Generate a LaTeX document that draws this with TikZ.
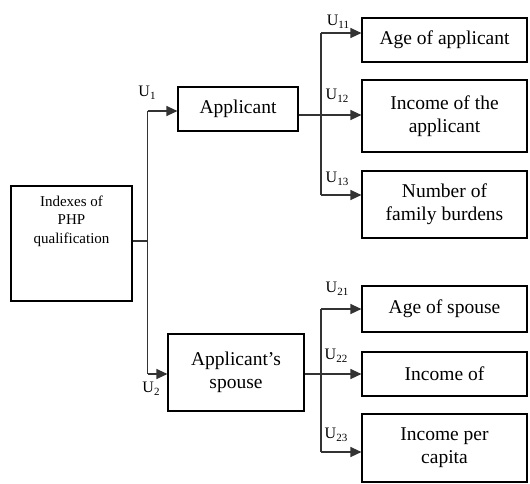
\documentclass[tikz,border=0pt]{standalone}
\usepackage{fontspec}
\setmainfont{Liberation Serif}
\usetikzlibrary{arrows.meta}
\newcommand\usub[1]{U\raisebox{-0.4ex}{\fontsize{11}{11}\selectfont #1}}
\begin{document}
\begin{tikzpicture}[x=1pt,y=-1pt,
  box/.style={draw=black, line width=1.1pt, align=center, inner sep=0pt,
    font=\fontsize{19.5}{23}\selectfont},
  rbox/.style={box, minimum width=165pt},
  conn/.style={draw=black!80, line width=1.2pt},
  arr/.style={conn, -{Triangle[length=11pt,width=10pt]}},
  ulab/.style={font=\fontsize{16}{16}\selectfont, inner sep=0pt}
]
\useasboundingbox (0,0) rectangle (530,483);

% root
\node[box, minimum width=121pt, minimum height=115pt] (root) at (71.5,243.5) {};
\node[align=center, inner sep=0pt, font=\fontsize{15}{18.5}\selectfont] (roottxt) at (71.5,221) {Indexes of\\PHP\\qualification};

% second level
\node[box, minimum width=120pt, minimum height=44pt] (app) at (238,109) {Applicant};
\node[box, minimum width=136pt, minimum height=77pt] (sp) at (236,372.5) {Applicant’s\\spouse};

% third level
\node[rbox, minimum height=44pt] (age1) at (444.5,40) {Age of applicant};
\node[rbox, minimum height=72pt] (inc1) at (444.5,116) {Income of the\\applicant};
\node[rbox, minimum height=67pt] (num) at (444.5,204.5) {Number of\\family burdens};
\node[rbox, minimum height=46pt] (age2) at (444.5,309) {Age of spouse};
\node[rbox, minimum height=44pt] (inc2) at (444.5,374) {Income of};
\node[rbox, minimum height=68pt] (cap) at (444.5,448) {Income per\\capita};

% trunk
\coordinate (t0) at (147.5,241);
\coordinate (t1) at (147.5,111);
\coordinate (t2) at (147.5,374);
\draw[conn] (root.east |- t0) -- (t0);
\draw[conn] (t1) -- (t2);
\draw[arr] (t1) -- (app.west |- t1);
\draw[arr] (t2) -- (sp.west |- t2);

% group 1
\coordinate (a1) at (321,33);
\coordinate (a2) at (321,115);
\coordinate (a3) at (321,195);
\draw[conn] (a1) -- (a3);
\draw[conn] (app.east |- a2) -- (a2);
\draw[arr] (a1) -- (age1.west |- a1);
\draw[arr] (a2) -- (inc1.west |- a2);
\draw[arr] (a3) -- (num.west |- a3);

% group 2
\coordinate (b1) at (321,309);
\coordinate (b2) at (321,374);
\coordinate (b3) at (321,452);
\draw[conn] (b1) -- (b3);
\draw[conn] (sp.east |- b2) -- (b2);
\draw[arr] (b1) -- (age2.west |- b1);
\draw[arr] (b2) -- (inc2.west |- b2);
\draw[arr] (b3) -- (cap.west |- b3);

% labels
\node[ulab] (l1) at (147,93) {\usub{1}};
\node[ulab] (l2) at (151,389) {\usub{2}};
\node[ulab] (l11) at (338,22) {\usub{11}};
\node[ulab] (l12) at (337,96) {\usub{12}};
\node[ulab] (l13) at (337,179) {\usub{13}};
\node[ulab] (l21) at (337,289) {\usub{21}};
\node[ulab] (l22) at (336,356) {\usub{22}};
\node[ulab] (l23) at (336,435) {\usub{23}};
\end{tikzpicture}
\end{document}
